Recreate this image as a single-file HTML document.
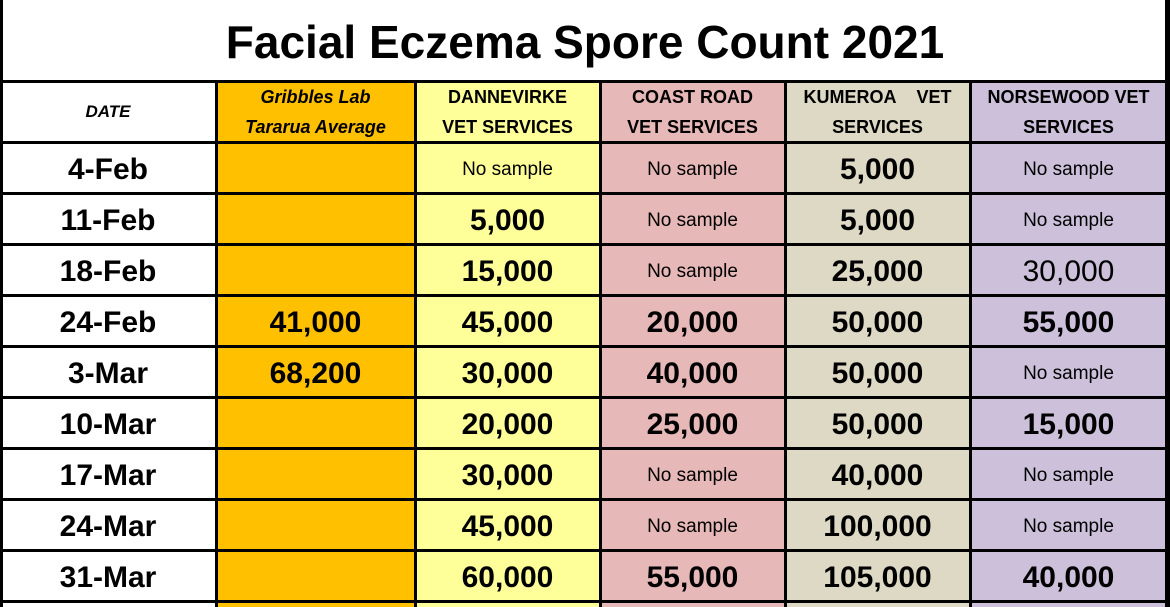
<!DOCTYPE html>
<html><head><meta charset="utf-8"><style>
html,body{margin:0;width:1170px;height:607px;overflow:hidden}
body{background:#fff;font-family:"Liberation Sans",sans-serif;position:relative}
.c{position:absolute;display:flex;align-items:center;justify-content:center;text-align:center;color:#000;box-sizing:border-box;overflow:hidden}
.l{position:absolute;background:#000}
.big{font-weight:bold;font-size:30px;padding-top:4px}
.ns{font-size:19px;padding-top:4px}
.hd{font-size:18px;font-weight:bold;line-height:30px}
</style></head><body>
<div class="c" style="left:0;top:0;width:1170px;height:82px;font-size:46px;font-weight:bold;padding-top:2px">Facial Eczema Spore Count 2021</div>
<div id="g"></div>
<script>
var xs=[0,216,415,600,785,970,1167];
var colors=["#ffffff","#FFC000","#FFFF99","#E6B8B7","#DDD9C4","#CCC0DA"];
var headers=["DATE","Gribbles Lab<br>Tararua Average","DANNEVIRKE<br>VET SERVICES","COAST ROAD<br>VET SERVICES","KUMEROA&nbsp;&nbsp;&nbsp; VET<br>SERVICES","NORSEWOOD VET<br>SERVICES"];
var dates=["4-Feb","11-Feb","18-Feb","24-Feb","3-Mar","10-Mar","17-Mar","24-Mar","31-Mar"];
var gribbles=["","","","41,000","68,200","","","",""];
var dannevirke=["No sample","5,000","15,000","45,000","30,000","20,000","30,000","45,000","60,000"];
var coastRoad=["No sample","No sample","No sample","20,000","40,000","25,000","No sample","No sample","55,000"];
var kumeroa=["5,000","5,000","25,000","50,000","50,000","50,000","40,000","100,000","105,000"];
var norsewood=["No sample","No sample","30,000","55,000","No sample","15,000","No sample","No sample","40,000"];
var cols=[dates,gribbles,dannevirke,coastRoad,kumeroa,norsewood];
var g=document.getElementById('g');
function cell(x,y,w,h,bg,html,cls){var d=document.createElement('div');d.className='c '+cls;d.style.cssText='left:'+x+'px;top:'+y+'px;width:'+w+'px;height:'+h+'px;background:'+bg;d.innerHTML=html;g.appendChild(d);return d;}
function line(x,y,w,h){var d=document.createElement('div');d.className='l';d.style.cssText='left:'+x+'px;top:'+y+'px;width:'+w+'px;height:'+h+'px';g.appendChild(d);}
for(var c=0;c<6;c++){
 var h=cell(xs[c],82,xs[c+1]-xs[c],60,colors[c],headers[c],'hd');
 if(c<2)h.style.fontStyle='italic';
 if(c===0)h.style.fontSize='17px';
 
 
 for(var r=0;r<=dates.length;r++){
  var v=r<dates.length?cols[c][r]:"";
  var cls=v==="No sample"?'ns':'big';
  var hh=r<dates.length?51:6;
  var d=cell(xs[c],142+r*51,xs[c+1]-xs[c],hh,colors[c],v,cls);
  if(c===5&&r===2)d.style.fontWeight='normal';
  
  
 }
}
line(0,0,3,607);line(1165,0,5,607);
line(0,80,1170,3);line(0,141,1170,3);
for(var r=1;r<=dates.length;r++)line(0,141+r*51,1170,3);
for(var c=1;c<6;c++)line(xs[c]-1,82,3,525);
</script>
</body></html>
